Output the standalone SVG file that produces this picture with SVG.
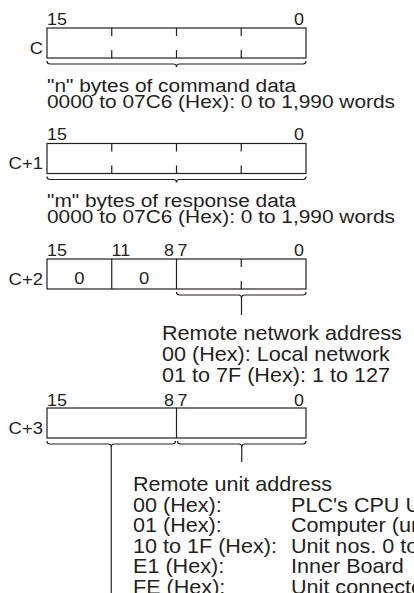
<svg xmlns="http://www.w3.org/2000/svg" width="414" height="593" viewBox="0 0 414 593">
<style>
text{font-family:"Liberation Sans",Arial,Helvetica,sans-serif;fill:#231f20}
.bit{font-size:16px}
.lbl{font-size:16.5px}
.m1{font-size:18px}
.m2{font-size:20px}
.end{text-anchor:end}
.mid{text-anchor:middle}
.box{fill:#fff;stroke:#231f20;stroke-width:1.2}
.ln{fill:none;stroke:#231f20;stroke-width:1.2}
</style>
<rect width="414" height="593" fill="#fff"/>

<g id="word-c">
<rect class="box" x="47" y="28" width="259" height="30"/>
<path class="ln" d="M111.75 28v8M111.75 50v8M176.5 28v8M176.5 50v8M241.25 28v8M241.25 50v8"/>
<text class="bit" transform="translate(47,24.5) scale(1.12,1)">15</text>
<text class="bit end" transform="translate(304,24.5) scale(1.12,1)">0</text>
<text class="lbl end" transform="translate(43,54) scale(1.12,1)">C</text>
</g>

<g id="word-c1">
<rect class="box" x="47" y="143.5" width="259" height="30"/>
<path class="ln" d="M111.75 143.5v8M111.75 165.5v8M176.5 143.5v8M176.5 165.5v8M241.25 143.5v8M241.25 165.5v8"/>
<text class="bit" transform="translate(47,140) scale(1.12,1)">15</text>
<text class="bit end" transform="translate(304,140) scale(1.12,1)">0</text>
<text class="lbl end" transform="translate(43,169) scale(1.12,1)">C+1</text>
</g>

<g id="word-c2">
<rect class="box" x="47" y="259" width="259" height="30"/>
<path class="ln" d="M111.75 259V289M176.5 259V289M241.25 259v8M241.25 281v8"/>
<text class="bit" transform="translate(47,255.5) scale(1.12,1)">15</text>
<text class="bit" transform="translate(111.5,255.5) scale(1.12,1)">11</text>
<text class="bit end" transform="translate(174,255.5) scale(1.12,1)">8</text>
<text class="bit" transform="translate(177.5,255.5) scale(1.12,1)">7</text>
<text class="bit end" transform="translate(304,255.5) scale(1.12,1)">0</text>
<text class="lbl end" transform="translate(43,285) scale(1.12,1)">C+2</text>
<text class="lbl mid" transform="translate(79.4,284) scale(1.12,1)">0</text>
<text class="lbl mid" transform="translate(144.1,284) scale(1.12,1)">0</text>
</g>

<g id="word-c3">
<rect class="box" x="47" y="408" width="259" height="30"/>
<path class="ln" d="M176.5 408V438"/>
<text class="bit" transform="translate(47,405.5) scale(1.12,1)">15</text>
<text class="bit end" transform="translate(174,405.5) scale(1.12,1)">8</text>
<text class="bit" transform="translate(177.5,405.5) scale(1.12,1)">7</text>
<text class="bit end" transform="translate(304,405.5) scale(1.12,1)">0</text>
<text class="lbl end" transform="translate(43,434) scale(1.12,1)">C+3</text>
</g>

<g id="connectors">
<path class="ln" d="M47 61q0 3 3 3H173.5q3 0 3 3q0-3 3-3H303q3 0 3-3"/>
<path class="ln" d="M47 176.5q0 3 3 3H173.5q3 0 3 3q0-3 3-3H303q3 0 3-3"/>
<path class="ln" d="M176.5 292q0 3 3 3H238.5q3 0 3 3q0-3 3-3H303q3 0 3-3M241.5 298V315"/>
<path class="ln" d="M47 441q0 3 3 3H108.25q3 0 3 3q0-3 3-3H172.5q3 0 3-3M111.25 447V593"/>
<path class="ln" d="M177.5 441q0 3 3 3H238.75q3 0 3 3q0-3 3-3H303q3 0 3-3M241.75 447V462"/>
</g>

<g id="note-command">
<text class="m1" transform="translate(47,92) scale(1.16,1)">"n" bytes of command data</text>
<text class="m1" transform="translate(47,108) scale(1.16,1)">0000 to 07C6 (Hex): 0 to 1,990 words</text>
</g>

<g id="note-response">
<text class="m1" transform="translate(47,207) scale(1.16,1)">"m" bytes of response data</text>
<text class="m1" transform="translate(47,223) scale(1.16,1)">0000 to 07C6 (Hex): 0 to 1,990 words</text>
</g>

<g id="note-network">
<text class="m2" transform="translate(162,339.5) scale(1.08,1)">Remote network address</text>
<text class="m2" transform="translate(162,360.5) scale(1.08,1)">00 (Hex): Local network</text>
<text class="m2" transform="translate(162,381.5) scale(1.08,1)">01 to 7F (Hex): 1 to 127</text>
</g>

<g id="note-unit">
<text class="m2" transform="translate(133,491) scale(1.08,1)">Remote unit address</text>
<text class="m2" transform="translate(133,511.6) scale(1.08,1)">00 (Hex):</text>
<text class="m2" transform="translate(291,511.6) scale(1.08,1)">PLC's CPU Unit</text>
<text class="m2" transform="translate(133,532.2) scale(1.08,1)">01 (Hex):</text>
<text class="m2" transform="translate(291,532.2) scale(1.08,1)">Computer (unit</text>
<text class="m2" transform="translate(133,552.8) scale(1.08,1)">10 to 1F (Hex):</text>
<text class="m2" transform="translate(291,552.8) scale(1.08,1)">Unit nos. 0 to</text>
<text class="m2" transform="translate(133,573.4) scale(1.08,1)">E1 (Hex):</text>
<text class="m2" transform="translate(291,573.4) scale(1.08,1)">Inner Board</text>
<text class="m2" transform="translate(133,594) scale(1.08,1)">FE (Hex):</text>
<text class="m2" transform="translate(291,594) scale(1.08,1)">Unit connected</text>
</g>
</svg>
